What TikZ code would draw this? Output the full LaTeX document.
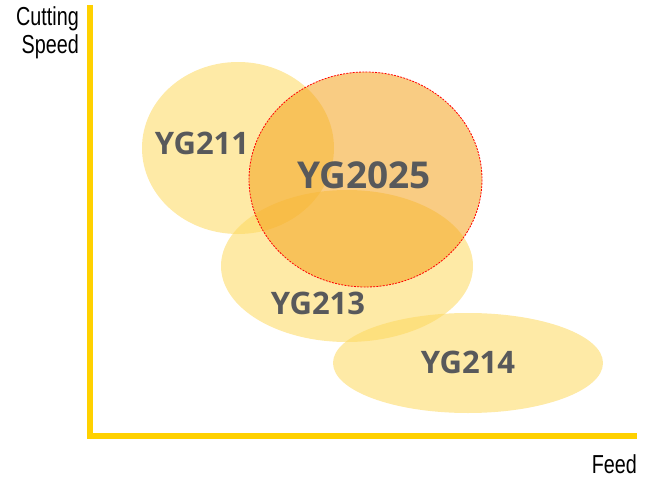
\documentclass[tikz,border=0pt]{standalone}
\usepackage{fontspec}
\setmainfont{Open Sans}
\newfontfamily\axisfont{Liberation Sans}[FakeStretch=0.76]
\definecolor{axisyellow}{HTML}{FFD100}
\definecolor{softyellow}{HTML}{FDD85D}
\definecolor{hotorange}{HTML}{F4A21D}
\definecolor{labelgrey}{HTML}{58595B}
\tikzset{
    grade/.style={font=\bfseries\fontsize{31}{31}\selectfont, text=labelgrey, inner sep=0pt},
    bigrade/.style={font=\bfseries\fontsize{37}{37}\selectfont, text=labelgrey, inner sep=0pt},
    axislabel/.style={font=\axisfont\fontsize{26}{28}\selectfont, inner sep=0pt, align=right},
    zone/.style={fill=softyellow, fill opacity=0.55},
}
\begin{document}
\begin{tikzpicture}[x=1pt, y=-1pt]
    \useasboundingbox (0,0) rectangle (653,481);

    % grade zones
    \fill[zone] (238,148) ellipse (96 and 86);
    \fill[zone] (347,266) ellipse (126 and 76);
    \fill[zone] (468,363) ellipse (135 and 50);
        \fill[hotorange, fill opacity=0.55] (365.5,179.5) ellipse (116.5 and 107.5);
        \draw[red, line width=0.8pt, dash pattern=on 2pt off 1.2pt] (365.5,179.5) ellipse (116.5 and 107.5);

    % axes
    \coordinate (top) at (90,5);
    \coordinate (origin) at (90,436);
    \coordinate (right) at (637,436);
    \draw[axisyellow, line width=6pt] (top) -- (origin) -- (right);

    \node[axislabel, anchor=north east] (speed) at(79,6){Cutting\\Speed};
    \node[axislabel, anchor=base east] (feed) at(637,473){Feed};

    \node[grade] (yg211) at(202,143){YG211};
    \node[bigrade] (yg2025) at(364,175){YG2025};
    \node[grade] (yg213) at(318,303){YG213};
    \node[grade] (yg214) at(468,362){YG214};
\end{tikzpicture}
\end{document}
